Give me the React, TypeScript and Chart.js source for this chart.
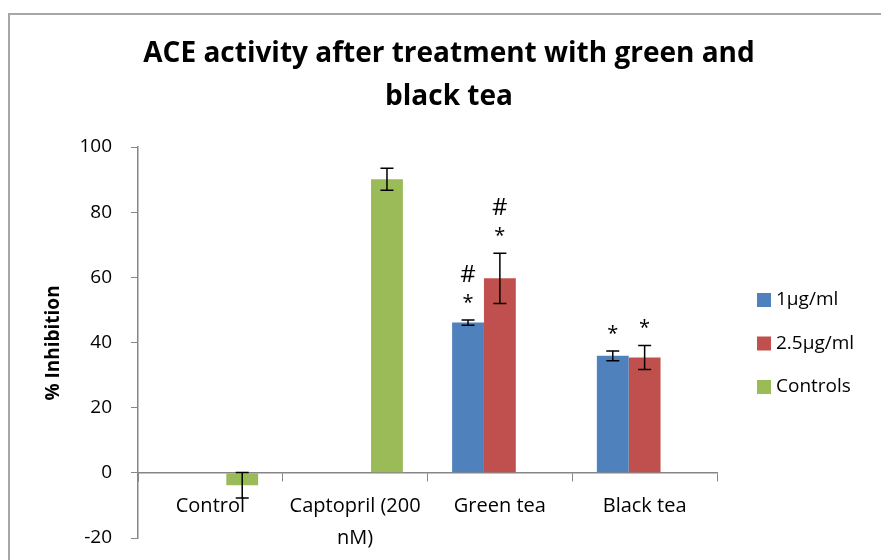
import { useEffect, useRef } from 'react';
import { Chart, registerables } from 'chart.js';

Chart.register(...registerables);

// Treatment groups along the x axis
const categories: (string | string[])[] = ['Control', ['Captopril (200', 'nM)'], 'Green tea', 'Black tea'];

// Series names (legend order)
const seriesNames = ['1µg/ml', '2.5µg/ml', 'Controls'];

// % inhibition means and their error half-widths
const lowDose = [null, null, 46.1, 35.9];
const lowDoseErr = [null, null, 0.8, 1.5];
const highDose = [null, null, 59.7, 35.4];
const highDoseErr = [null, null, 7.7, 3.7];
const controls = [-3.8, 90.1, null, null];
const controlsErr = [3.9, 3.4, null, null];

// Significance marks, listed bottom to top above each bar
const lowDoseMarks = [[], [], ['*', '#'], ['*']];
const highDoseMarks = [[], [], ['*', '#'], ['*']];
const controlsMarks = [[], [], [], []];

// Value axis ticks
const yMin = -20;
const yMax = 100;
const yStep = 20;

const titleLines = ['ACE activity after treatment with green and', 'black tea'];
const yTitle = '% Inhibition';

const FONT = "'Open Sans', sans-serif";
const AXIS_GREY = '#868686';
const COLORS = ['#4F81BD', '#C0504D', '#9BBB59'];

const errors = [lowDoseErr, highDoseErr, controlsErr];
const marks = [lowDoseMarks, highDoseMarks, controlsMarks];

const decorPlugin = {
  id: 'decor',
  beforeDraw(chart: any) {
    const { ctx, width, height } = chart;
    ctx.save();
    ctx.fillStyle = '#ffffff';
    ctx.fillRect(0, 0, width, height);
    // outer frame of the chart object
    ctx.strokeStyle = '#a6a6a6';
    ctx.lineWidth = 2;
    ctx.beginPath();
    ctx.moveTo(9, height + 5);
    ctx.lineTo(9, 14);
    ctx.lineTo(width + 5, 14);
    ctx.stroke();
    ctx.restore();
  },
  afterDatasetsDraw(chart: any) {
    const { ctx } = chart;
    const y = chart.scales.y;
    ctx.save();
    chart.data.datasets.forEach((ds: any, i: number) => {
      const meta = chart.getDatasetMeta(i);
      ds.data.forEach((v: number | null, j: number) => {
        if (v === null || v === undefined) return;
        const bar = meta.data[j];
        const e = errors[i][j] ?? 0;
        const top = y.getPixelForValue(v + e);
        const bottom = y.getPixelForValue(v - e);
        const x = bar.x;
        ctx.strokeStyle = '#000000';
        ctx.lineWidth = 1.5;
        ctx.beginPath();
        ctx.moveTo(x, top);
        ctx.lineTo(x, bottom);
        ctx.moveTo(x - 6.5, top);
        ctx.lineTo(x + 6.5, top);
        ctx.moveTo(x - 6.5, bottom);
        ctx.lineTo(x + 6.5, bottom);
        ctx.stroke();

        // significance marks above the error bar
        const list = marks[i][j] || [];
        ctx.fillStyle = '#000000';
        ctx.textAlign = 'center';
        ctx.textBaseline = 'alphabetic';
        let cy = top - 21;
        list.forEach((m: string) => {
          if (m === '*') {
            ctx.font = `20px ${FONT}`;
            ctx.fillText(m, x, cy + 10);
          } else {
            ctx.font = `24px ${FONT}`;
            ctx.fillText(m, x, cy + 8.5);
          }
          cy -= 26;
        });
      });
    });
    ctx.restore();
  },
  afterDraw(chart: any) {
    const { ctx } = chart;
    ctx.save();
    ctx.fillStyle = '#000000';
    // title
    ctx.font = `bold 28px ${FONT}`;
    ctx.textAlign = 'center';
    ctx.textBaseline = 'alphabetic';
    ctx.fillText(titleLines[0], 449, 62);
    ctx.fillText(titleLines[1], 449, 105);

    // value axis title
    ctx.save();
    ctx.translate(54, 343);
    ctx.rotate(-Math.PI / 2);
    ctx.font = `bold 19px ${FONT}`;
    ctx.textBaseline = 'middle';
    ctx.fillText(yTitle, 0, 0);
    ctx.restore();

    // legend
    ctx.font = `19px ${FONT}`;
    ctx.textAlign = 'left';
    ctx.textBaseline = 'middle';
    chart.data.datasets.forEach((ds: any, i: number) => {
      const cy = 300 + i * 43.5;
      ctx.fillStyle = ds.backgroundColor;
      ctx.fillRect(757, cy - 7, 14, 14);
      ctx.fillStyle = '#000000';
      ctx.fillText(ds.label, 776, cy);
    });
    ctx.restore();
  },
};

export default function App() {
  const canvasRef = useRef<HTMLCanvasElement | null>(null);

  useEffect(() => {
    const canvas = canvasRef.current;
    if (!canvas) return;
    const seriesData = [lowDose, highDose, controls];
    const chart = new Chart(canvas, {
      type: 'bar',
      data: {
        labels: categories,
        datasets: seriesData.map((d, i) => ({
          label: seriesNames[i],
          data: d,
          backgroundColor: COLORS[i],
          borderWidth: 0,
          categoryPercentage: 0.66,
          barPercentage: 1,
        })),
      },
      options: {
        responsive: false,
        animation: false,
        devicePixelRatio: 1,
        layout: { padding: { top: 147, right: 164, bottom: 22, left: 0 } },
        plugins: {
          legend: { display: false },
          title: { display: false },
          tooltip: { enabled: false },
        },
        scales: {
          x: {
            position: { y: 0 } as any,
            grid: {
              drawOnChartArea: false,
              drawTicks: true,
              tickLength: 8,
              color: AXIS_GREY,
              offset: true,
            },
            border: { color: AXIS_GREY, width: 1.5 },
            ticks: {
              color: '#000000',
              font: { family: FONT, size: 20, lineHeight: 1.6 },
              padding: 9,
              maxRotation: 0,
              autoSkip: false,
            },
          },
          y: {
            min: yMin,
            max: yMax,
            grid: {
              drawOnChartArea: false,
              drawTicks: true,
              tickLength: 7,
              color: AXIS_GREY,
            },
            border: { color: AXIS_GREY, width: 1.5 },
            ticks: {
              stepSize: yStep,
              color: '#000000',
              font: { family: FONT, size: 19 },
              padding: 19,
            },
            afterFit(scale: any) {
              scale.width = 138;
              scale.paddingTop = 0;
              scale.paddingBottom = 0;
            },
          },
        },
      },
      plugins: [decorPlugin],
    });
    return () => chart.destroy();
  }, []);

  return (
    <div style={{ position: 'absolute', left: 0, top: 0, width: 881, height: 560, background: '#fff' }}>
      <canvas ref={canvasRef} width={881} height={560} style={{ display: 'block' }} />
    </div>
  );
}
